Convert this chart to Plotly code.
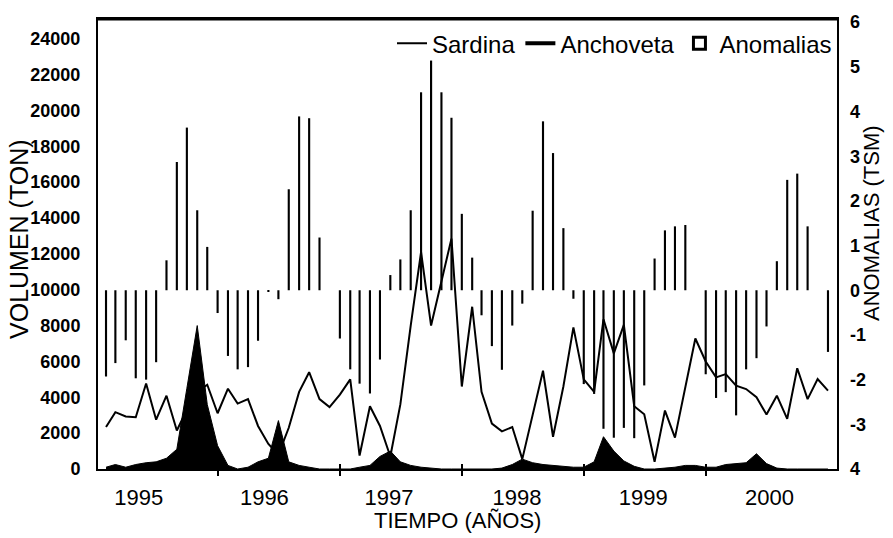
import pandas as pd
import plotly.graph_objects as go

# Serie mensual: febrero 1995 - enero 2001
meses = pd.date_range("1995-02-01", periods=72, freq="MS")

# Volumen desembarcado de sardina (ton)
sardina = [
    2340, 3170, 2930, 2890, 4770, 2750, 4090, 2150, 3300, 4300, 4700, 3110,
    4480, 3650, 3900, 2400, 1400, 800, 2300, 4300, 5400, 3900, 3450, 4150,
    5000, 750, 3500, 2400, 700, 3600, 8000, 12100, 8000, 10500, 12850, 4600,
    9050, 4300, 2530, 2100, 2340, 550, 3000, 5480, 1800, 4600, 7900, 5000,
    4300, 8350, 6450, 8040, 3500, 3050, 400, 3260, 1750, 4500, 7280, 6000,
    5110, 5290, 4650, 4460, 4000, 3040, 4090, 2800, 5620, 3900, 5020, 4370,
]

# Volumen desembarcado de anchoveta (ton)
anchoveta = [
    100, 250, 100, 250, 350, 400, 600, 1100, 4500, 8000, 3600, 1300,
    200, 0, 100, 400, 600, 2700, 400, 200, 100, 0, 0, 0,
    0, 100, 200, 700, 1000, 400, 200, 100, 50, 0, 0, 0,
    0, 0, 0, 50, 250, 550, 350, 250, 200, 150, 100, 100,
    400, 1800, 1000, 450, 150, 0, 0, 50, 100, 200, 200, 100,
    100, 250, 300, 350, 850, 300, 50, 0, 0, 0, 0, 0,
]

# Anomalias de temperatura superficial del mar (grados C)
anomalias = [
    -1.93, -1.63, -1.12, -1.97, -2.00, -1.61, 0.67, 2.87, 3.64, 1.79, 0.97, -0.51,
    -1.47, -1.77, -1.72, -1.13, -0.03, -0.20, 2.26, 3.89, 3.85, 1.18, 0.00, -1.08,
    -1.77, -2.09, -2.31, -1.55, 0.34, 0.69, 1.79, 4.43, 5.14, 4.43, 3.86, 1.71,
    0.73, -0.56, -1.25, -1.78, -0.79, -0.30, 1.78, 3.78, 3.07, 1.39, -0.19, -2.10,
    -2.32, -3.10, -3.30, -3.08, -3.31, -2.13, 0.71, 1.34, 1.43, 1.46, 0.00, -1.88,
    -2.41, -2.28, -2.80, -1.77, -1.52, -0.81, 0.65, 2.47, 2.61, 1.43, 0.00, -1.38,
]

anios = ["1995", "1996", "1997", "1998", "1999", "2000"]
posicion_anio = ["1995-05-10", "1996-05-20", "1997-05-28",
                 "1998-06-15", "1999-06-28", "2000-07-10"]
inicio_anio = ["1996-01-01", "1997-01-01", "1998-01-01",
               "1999-01-01", "2000-01-01"]
ticks_volumen = list(range(0, 24001, 2000))
ticks_anomalia = [6, 5, 4, 3, 2, 1, 0, -1, -2, -3, -4]
texto_anomalia = ["6", "5", "4", "3", "2", "1", "0", "-1", "-2", "-3", "4"]

FUENTE = "Liberation Sans, Arial, sans-serif"
FUENTE_NUM = "Liberation Sans Narrow, Arial Narrow, Liberation Sans, sans-serif"

fig = go.Figure()

# Anomalias como barras finas sobre el eje derecho
fig.add_trace(go.Bar(
    x=meses, y=anomalias, yaxis="y2", width=5.5e8,
    marker=dict(color="black", line=dict(width=0)),
    showlegend=False, name="Anomalias",
))

fig.add_trace(go.Scatter(
    x=meses, y=sardina, mode="lines", name="Sardina",
    line=dict(color="black", width=2), legendrank=1,
))

fig.add_trace(go.Scatter(
    x=meses, y=anchoveta, mode="lines", fill="tozeroy",
    fillcolor="black", line=dict(color="black", width=1),
    showlegend=False, name="Anchoveta",
))

# Entradas de leyenda
fig.add_trace(go.Scatter(
    x=[None], y=[None], mode="lines", name="Anchoveta",
    line=dict(color="black", width=4), legendrank=2,
))
fig.add_trace(go.Scatter(
    x=[None], y=[None], mode="markers", name="Anomalias", xaxis="x2",
    marker=dict(symbol="square-open", size=12, color="black",
                line=dict(width=3, color="black")),
    legendrank=3,
))

fig.update_layout(
    width=893, height=538,
    margin=dict(l=98, r=56, t=15, b=69),
    paper_bgcolor="white", plot_bgcolor="white",
    font=dict(family=FUENTE, color="black"),
    barmode="overlay",
    xaxis=dict(
        type="date", range=["1995-01-08", "2001-01-28"],
        tickvals=posicion_anio, ticktext=anios, ticks="",
        tickfont=dict(family=FUENTE, size=22), ticklabelstandoff=8,
        showgrid=False, zeroline=False,
        showline=True, mirror=True, linewidth=2, linecolor="black",
        minor=dict(tickmode="array", tickvals=inicio_anio, ticks="outside",
                   ticklen=5, tickwidth=2, tickcolor="black", showgrid=False),
    ),
    xaxis2=dict(
        type="date", overlaying="x", matches="x", anchor="y", side="bottom",
        tickvals=inicio_anio, ticks="inside", ticklen=5, tickwidth=2,
        tickcolor="black", showticklabels=False, showgrid=False,
        zeroline=False, showline=False,
    ),
    yaxis=dict(
        range=[0, 25100], tickvals=ticks_volumen, tickformat="d", ticks="",
        tickfont=dict(family=FUENTE_NUM, size=18, weight="bold"),
        ticklabelstandoff=12,
        showgrid=False, zeroline=False,
        showline=True, mirror=True, linewidth=2, linecolor="black",
    ),
    yaxis2=dict(
        overlaying="y", side="right", range=[-4, 6.07],
        tickvals=ticks_anomalia, ticktext=texto_anomalia, ticks="",
        tickfont=dict(family=FUENTE_NUM, size=18, weight="bold"),
        ticklabelstandoff=12,
        showgrid=False, zeroline=False, showline=False,
    ),
    legend=dict(
        orientation="h", x=1, xanchor="right", y=0.995, yanchor="top",
        bgcolor="rgba(0,0,0,0)", font=dict(family=FUENTE, size=24),
        itemwidth=30, traceorder="normal",
    ),
    shapes=[
        # marco del area de trazado
        dict(type="line", xref="paper", yref="paper", x0=0, y0=1, x1=1, y1=1,
             line=dict(color="black", width=3), layer="above"),
    ],
    annotations=[
        dict(text="VOLUMEN (TON)", xref="paper", yref="paper",
             x=-0.107, y=0.511, textangle=-90, showarrow=False,
             font=dict(family=FUENTE, size=25), xanchor="center", yanchor="middle"),
        dict(text="ANOMALIAS (TSM)", xref="paper", yref="paper",
             x=1.047, y=0.546, textangle=-90, showarrow=False,
             font=dict(family=FUENTE, size=22), xanchor="center", yanchor="middle"),
        dict(text="TIEMPO (AÑOS)", xref="paper", yref="paper",
             x=0.487, y=-0.115, showarrow=False,
             font=dict(family=FUENTE, size=22), xanchor="center", yanchor="middle"),
    ],
)

fig.write_html("out.html")
